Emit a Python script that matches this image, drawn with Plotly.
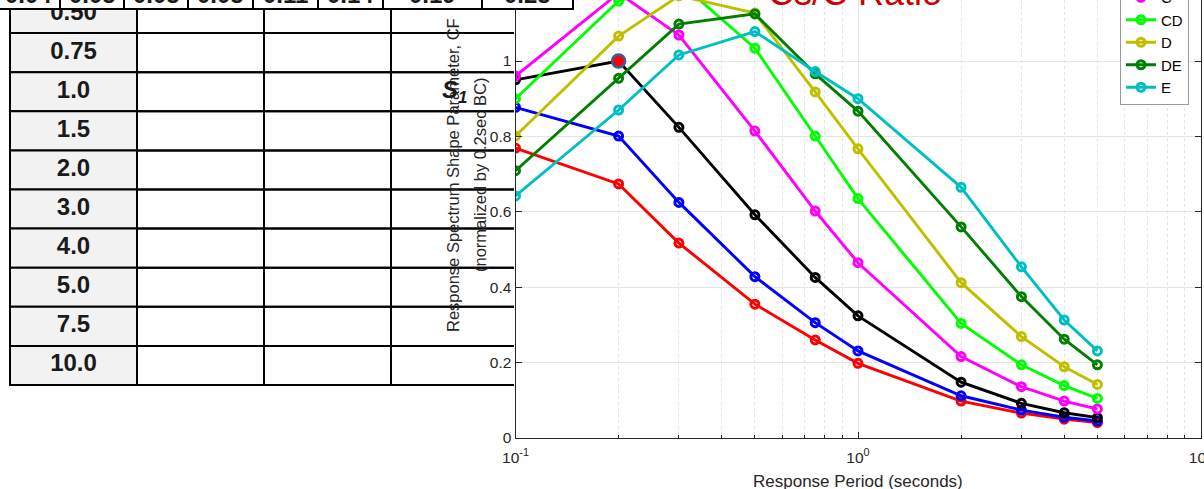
import plotly.graph_objects as go

# ---------------- data ----------------
periods = [0.1, 0.2, 0.3, 0.5, 0.75, 1.0, 2.0, 3.0, 4.0, 5.0]
site_classes = ["A", "B", "BC", "C", "CD", "D", "DE", "E"]

cf_A = [0.769, 0.674, 0.517, 0.355, 0.260, 0.198, 0.098, 0.066, 0.050, 0.041]
cf_B = [0.877, 0.801, 0.625, 0.428, 0.306, 0.231, 0.112, 0.074, 0.055, 0.045]
cf_BC = [0.950, 1.000, 0.824, 0.592, 0.426, 0.324, 0.148, 0.092, 0.067, 0.054]
cf_C = [0.960, 1.180, 1.069, 0.814, 0.602, 0.465, 0.216, 0.136, 0.098, 0.077]
cf_CD = [0.900, 1.159, 1.210, 1.034, 0.801, 0.635, 0.304, 0.194, 0.139, 0.105]
cf_D = [0.801, 1.066, 1.173, 1.127, 0.918, 0.767, 0.412, 0.269, 0.189, 0.142]
cf_DE = [0.709, 0.954, 1.098, 1.125, 0.966, 0.867, 0.560, 0.375, 0.262, 0.194]
cf_E = [0.642, 0.870, 1.016, 1.078, 0.972, 0.900, 0.665, 0.454, 0.313, 0.231]

# normalisation point (0.2 s, class BC)
ref_period = [0.2]
ref_cf = [1.0]

row_labels = ["0.50", "0.75", "1.0", "1.5", "2.0", "3.0", "4.0", "5.0", "7.5", "10.0"]
top_row_values = ["0.04", "0.05", "0.05", "0.05", "0.11", "0.14", "0.19", "0.25"]

x_tick_vals = [0.1, 1, 10]
x_tick_text = ["10<sup>-1</sup>", "10<sup>0</sup>", "10<sup>1</sup>"]
y_tick_vals = [0, 0.2, 0.4, 0.6, 0.8, 1.0]
y_tick_text = ["0", "0.2", "0.4", "0.6", "0.8", "1"]

# ---------------- styling / geometry ----------------
series = [cf_A, cf_B, cf_BC, cf_C, cf_CD, cf_D, cf_DE, cf_E]
class_colors = ["#ff0000", "#0000ff", "#000000", "#ff00ff",
                "#00ff00", "#bfbf00", "#007f00", "#00bfbf"]

W, H = 1204, 489
FONT = "Liberation Sans, Arial, Helvetica, sans-serif"
AX_COLOR = "#262626"


def fx(px):
    return px / W


def fy(py):
    return (H - py) / H


# chart area (pixels)
PLOT_L, PLOT_R, PLOT_B = 515.5, 1200.5, 438
PX_PER_UNIT = 377.0

# main table (pixels)
TBL_LEFT, COL_W, N_COLS = 10, 127, 4
TBL_BOTTOM, ROW_H = 385, 39.1
TBL_RIGHT_CLIP = 514

# overlapping top row (pixels)
TOP_LEFT = -4
top_col_widths = [64, 64, 64, 65, 65, 65, 99, 91]
TOP_BOTTOM, TOP_H = 9, 28

fig = go.Figure()

# ---------------- spectra ----------------
for name, vals, color in zip(site_classes, series, class_colors):
    fig.add_trace(go.Scatter(
        x=periods, y=vals, name=name, mode="lines+markers",
        line=dict(color=color, width=2.9),
        marker=dict(symbol="circle-open", size=8, color=color,
                    line=dict(width=3, color=color)),
        xaxis="x", yaxis="y",
    ))

fig.add_trace(go.Scatter(
    x=ref_period, y=ref_cf, mode="markers", showlegend=False,
    marker=dict(size=13, color="#ff0000", line=dict(color="#3f5a9a", width=2.5)),
    xaxis="x", yaxis="y",
))

# ---------------- main table ----------------
n_rows = len(row_labels)
shapes = []
for i in range(n_rows):
    for c in range(N_COLS):
        shapes.append(dict(
            type="rect", xref="x2", yref="y2", layer="below",
            x0=c, x1=c + 1, y0=n_rows - 1 - i, y1=n_rows - i,
            line=dict(color="#000000", width=2),
            fillcolor="#f2f2f2" if c == 0 else "rgba(0,0,0,0)",
        ))

fig.add_trace(go.Scatter(
    x=[0.5] * n_rows, y=[n_rows - i - 0.5 for i in range(n_rows)],
    text=row_labels, mode="text", showlegend=False, hoverinfo="skip",
    textfont=dict(family=FONT, size=24, color="#1a1a1a", weight="bold"),
    xaxis="x2", yaxis="y2",
))

# ---------------- top row (drawn over everything below it) ----------------
edges = [0]
for w in top_col_widths:
    edges.append(edges[-1] + w)
for k in range(len(top_row_values)):
    shapes.append(dict(
        type="rect", xref="x3", yref="y3", layer="above",
        x0=edges[k], x1=edges[k + 1], y0=0, y1=1,
        line=dict(color="#000000", width=2), fillcolor="#ffffff",
    ))

# anchor trace so the x3/y3 subplot exists
fig.add_trace(go.Scatter(
    x=[edges[0]], y=[0], mode="markers", showlegend=False, hoverinfo="skip",
    marker=dict(size=1, opacity=0), xaxis="x3", yaxis="y3",
))

annotations = []
top_text_y = fy(TOP_BOTTOM - TOP_H / 2)
for k, val in enumerate(top_row_values):
    annotations.append(dict(
        text=val, x=(edges[k] + edges[k + 1]) / 2, y=top_text_y,
        xref="x3", yref="paper",
        xanchor="center", yanchor="middle", showarrow=False,
        font=dict(family=FONT, size=24, color="#1a1a1a", weight="bold"),
    ))

# ---------------- titles / labels ----------------
annotations += [
    dict(text="Cs/C Ratio", x=fx(855), y=fy(-7.5), xref="paper", yref="paper",
         xanchor="center", yanchor="middle", showarrow=False,
         font=dict(family=FONT, size=36, color="#cc0000")),
    dict(text="Response Spectrum Shape Parameter, CF", x=fx(453), y=fy(175),
         xref="paper", yref="paper", textangle=-90, showarrow=False,
         xanchor="center", yanchor="middle",
         font=dict(family=FONT, size=16.5, color=AX_COLOR)),
    dict(text="(normalized by 0.2sec BC)", x=fx(480), y=fy(175),
         xref="paper", yref="paper", textangle=-90, showarrow=False,
         xanchor="center", yanchor="middle",
         font=dict(family=FONT, size=16.5, color=AX_COLOR)),
    dict(text="<b><i>S<sub>1</sub></i></b>", x=fx(454), y=fy(92),
         xref="paper", yref="paper", showarrow=False,
         xanchor="center", yanchor="middle",
         font=dict(family=FONT, size=24, color="#1a1a1a")),
    dict(text="Response Period (seconds)", x=fx(858), y=fy(481),
         xref="paper", yref="paper", showarrow=False,
         xanchor="center", yanchor="middle",
         font=dict(family=FONT, size=17, color=AX_COLOR)),
]

minor_x = [m * 10.0 ** e for e in (-1, 0) for m in range(2, 10)]

fig.update_layout(
    width=W, height=H,
    margin=dict(l=0, r=0, t=0, b=0, pad=0, autoexpand=False),
    paper_bgcolor="#ffffff", plot_bgcolor="rgba(0,0,0,0)",
    font=dict(family=FONT, color=AX_COLOR),
    showlegend=True,
    legend=dict(x=fx(1120), xanchor="left", y=fy(104.5), yanchor="bottom",
                bgcolor="#ffffff", bordercolor="#9a9a9a", borderwidth=1,
                font=dict(family=FONT, size=15, color="#000000"),
                tracegroupgap=0, itemwidth=30),
    xaxis=dict(
        type="log", domain=[fx(PLOT_L), fx(PLOT_R)], range=[-1, 1],
        tickmode="array", tickvals=x_tick_vals, ticktext=x_tick_text,
        ticks="inside", ticklen=6, tickwidth=1, tickcolor=AX_COLOR,
        ticklabelstandoff=5, ticklabeloverflow="allow",
        showline=True, linecolor=AX_COLOR, linewidth=1, mirror=False,
        showgrid=True, gridcolor="#e4e4e4", gridwidth=1, zeroline=False,
        tickfont=dict(family=FONT, size=15.5, color=AX_COLOR),
        minor=dict(tickmode="array", tickvals=minor_x, ticks="inside",
                   ticklen=3, tickcolor=AX_COLOR, showgrid=True,
                   gridcolor="#e2e2e2", griddash="dot", gridwidth=1),
        anchor="y", fixedrange=True,
    ),
    yaxis=dict(
        domain=[fy(PLOT_B), 1], range=[0, PLOT_B / PX_PER_UNIT],
        tickmode="array", tickvals=y_tick_vals, ticktext=y_tick_text,
        ticks="inside", ticklen=6, tickwidth=1, tickcolor=AX_COLOR,
        showline=True, linecolor=AX_COLOR, linewidth=1, mirror="ticks",
        showgrid=True, gridcolor="#e4e4e4", gridwidth=1, zeroline=False,
        tickfont=dict(family=FONT, size=15.5, color=AX_COLOR),
        anchor="x", fixedrange=True,
    ),
    xaxis2=dict(domain=[0, fx(TBL_RIGHT_CLIP)],
                range=[(0 - TBL_LEFT) / COL_W, (TBL_RIGHT_CLIP - TBL_LEFT) / COL_W],
                visible=False, anchor="y2", fixedrange=True),
    yaxis2=dict(domain=[fy(TBL_BOTTOM + 4), 1],
                range=[(TBL_BOTTOM - (TBL_BOTTOM + 4)) / ROW_H, TBL_BOTTOM / ROW_H],
                visible=False, anchor="x2", fixedrange=True),
    xaxis3=dict(domain=[0, 1], range=[0 - TOP_LEFT, W - TOP_LEFT],
                visible=False, anchor="y3", fixedrange=True),
    yaxis3=dict(domain=[fy(TOP_BOTTOM + 2), 1],
                range=[(TOP_BOTTOM - (TOP_BOTTOM + 2)) / TOP_H, TOP_BOTTOM / TOP_H],
                visible=False, anchor="x3", fixedrange=True),
    shapes=shapes,
    annotations=annotations,
)

fig.write_html("out.html")
